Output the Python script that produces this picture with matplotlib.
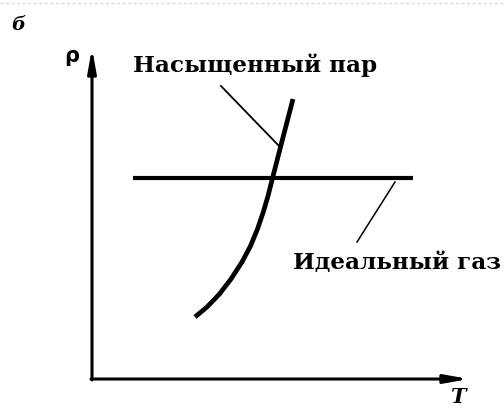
import matplotlib.pyplot as plt

# saturated vapour curve (T, rho) in arbitrary units, origin at the axes corner
T_vapor = [103, 115, 127.5, 139, 150, 158.5, 165.5, 171.3, 176, 180.3, 188, 194.5, 201]
rho_vapor = [62, 72, 85, 100, 117, 133, 150, 167, 183, 200, 230, 255, 280]

# ideal gas: constant density
T_gas = [41, 321]
rho_gas = [201, 201]

label_vapor = 'Насыщенный пар'
label_gas = 'Идеальный газ'

fig = plt.figure(figsize=(5.04, 4.14), dpi=100)
ax = fig.add_axes([0, 0, 1, 1])
ax.set_xlim(-92, 412)
ax.set_ylim(-34, 380)
ax.axis('off')

# faint scan border at the top
ax.plot([-92, 412], [376, 376], color='#d8d8d8', lw=1.0, ls=(0, (2, 2)))

# axes with arrows
arrow = dict(arrowstyle='-|>,head_length=1.4,head_width=0.25', color='black',
             lw=2.2, shrinkA=0, shrinkB=0)
ax.annotate('', xy=(0, 331), xytext=(0, -1), arrowprops=arrow)
ax.annotate('', xy=(377, 0), xytext=(-1, 0), arrowprops=arrow)

# curves
ax.plot(T_vapor, rho_vapor, color='black', lw=3.4, solid_capstyle='butt',
        solid_joinstyle='round')
ax.plot(T_gas, rho_gas, color='black', lw=3.0, solid_capstyle='butt')

# leader lines
ax.plot([129, 188], [293, 232], color='black', lw=1.3)
ax.plot([303, 265], [197, 137], color='black', lw=1.1)

# labels
font = dict(family='DejaVu Serif', fontweight='bold', fontsize=16.7)
ax.text(41, 315, label_vapor, ha='left', va='center', **font)
ax.text(201, 117, label_gas, ha='left', va='center', **font)
ax.text(-20, 324, 'ρ', ha='center', va='center', family='DejaVu Sans',
        fontweight='bold', fontsize=15)
ax.text(-74, 355, 'б', ha='center', va='center', family='DejaVu Serif',
        fontstyle='italic', fontweight='bold', fontsize=14)
ax.text(366, -17, 'T', ha='center', va='center', family='DejaVu Serif',
        fontstyle='italic', fontweight='bold', fontsize=15)

fig.savefig('out.png', dpi=100)
